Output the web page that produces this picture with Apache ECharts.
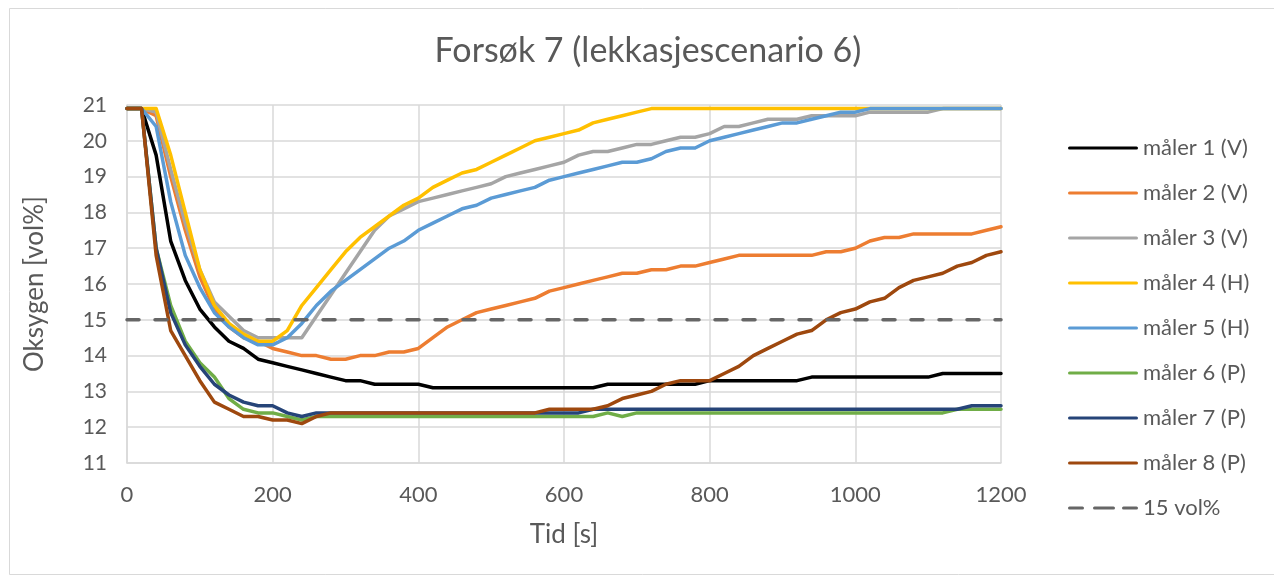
<!DOCTYPE html>
<html>
<head>
<meta charset="utf-8">
<title>Forsøk 7 (lekkasjescenario 6)</title>
<script src="https://cdn.jsdelivr.net/npm/echarts@6/dist/echarts.min.js"></script>
<style>
  html, body { margin: 0; padding: 0; background: #ffffff; }
  #chart { width: 1274px; height: 577px; }
</style>
</head>
<body>
<div id="chart"></div>
<script>
// Sampling times [s]
const tid = [
  0, 20, 40, 60, 80, 100, 120, 140, 160, 180,
  200, 220, 240, 260, 280, 300, 320, 340, 360, 380,
  400, 420, 440, 460, 480, 500, 520, 540, 560, 580,
  600, 620, 640, 660, 680, 700, 720, 740, 760, 780,
  800, 820, 840, 860, 880, 900, 920, 940, 960, 980,
  1000, 1020, 1040, 1060, 1080, 1100, 1120, 1140, 1160, 1180,
  1200
];

// Oxygen readings [vol%] per sensor
const maaler1 = [
  20.9, 20.9, 19.6, 17.2, 16.1, 15.3, 14.8, 14.4, 14.2, 13.9,
  13.8, 13.7, 13.6, 13.5, 13.4, 13.3, 13.3, 13.2, 13.2, 13.2,
  13.2, 13.1, 13.1, 13.1, 13.1, 13.1, 13.1, 13.1, 13.1, 13.1,
  13.1, 13.1, 13.1, 13.2, 13.2, 13.2, 13.2, 13.2, 13.2, 13.2,
  13.3, 13.3, 13.3, 13.3, 13.3, 13.3, 13.3, 13.4, 13.4, 13.4,
  13.4, 13.4, 13.4, 13.4, 13.4, 13.4, 13.5, 13.5, 13.5, 13.5,
  13.5
];
const maaler2 = [
  20.9, 20.9, 20.7, 19.0, 17.5, 16.2, 15.3, 14.8, 14.5, 14.4,
  14.2, 14.1, 14.0, 14.0, 13.9, 13.9, 14.0, 14.0, 14.1, 14.1,
  14.2, 14.5, 14.8, 15.0, 15.2, 15.3, 15.4, 15.5, 15.6, 15.8,
  15.9, 16.0, 16.1, 16.2, 16.3, 16.3, 16.4, 16.4, 16.5, 16.5,
  16.6, 16.7, 16.8, 16.8, 16.8, 16.8, 16.8, 16.8, 16.9, 16.9,
  17.0, 17.2, 17.3, 17.3, 17.4, 17.4, 17.4, 17.4, 17.4, 17.5,
  17.6
];
const maaler3 = [
  20.9, 20.9, 20.8, 19.2, 17.7, 16.4, 15.5, 15.1, 14.7, 14.5,
  14.5, 14.5, 14.5, 15.1, 15.7, 16.3, 16.9, 17.5, 17.9, 18.1,
  18.3, 18.4, 18.5, 18.6, 18.7, 18.8, 19.0, 19.1, 19.2, 19.3,
  19.4, 19.6, 19.7, 19.7, 19.8, 19.9, 19.9, 20.0, 20.1, 20.1,
  20.2, 20.4, 20.4, 20.5, 20.6, 20.6, 20.6, 20.7, 20.7, 20.7,
  20.7, 20.8, 20.8, 20.8, 20.8, 20.8, 20.9, 20.9, 20.9, 20.9,
  20.9
];
const maaler4 = [
  20.9, 20.9, 20.9, 19.6, 18.0, 16.4, 15.4, 14.9, 14.6, 14.4,
  14.4, 14.7, 15.4, 15.9, 16.4, 16.9, 17.3, 17.6, 17.9, 18.2,
  18.4, 18.7, 18.9, 19.1, 19.2, 19.4, 19.6, 19.8, 20.0, 20.1,
  20.2, 20.3, 20.5, 20.6, 20.7, 20.8, 20.9, 20.9, 20.9, 20.9,
  20.9, 20.9, 20.9, 20.9, 20.9, 20.9, 20.9, 20.9, 20.9, 20.9,
  20.9, 20.9, 20.9, 20.9, 20.9, 20.9, 20.9, 20.9, 20.9, 20.9,
  20.9
];
const maaler5 = [
  20.9, 20.9, 20.4, 18.3, 16.8, 15.9, 15.2, 14.8, 14.5, 14.3,
  14.3, 14.5, 14.9, 15.4, 15.8, 16.1, 16.4, 16.7, 17.0, 17.2,
  17.5, 17.7, 17.9, 18.1, 18.2, 18.4, 18.5, 18.6, 18.7, 18.9,
  19.0, 19.1, 19.2, 19.3, 19.4, 19.4, 19.5, 19.7, 19.8, 19.8,
  20.0, 20.1, 20.2, 20.3, 20.4, 20.5, 20.5, 20.6, 20.7, 20.8,
  20.8, 20.9, 20.9, 20.9, 20.9, 20.9, 20.9, 20.9, 20.9, 20.9,
  20.9
];
const maaler6 = [
  20.9, 20.9, 17.0, 15.4, 14.4, 13.8, 13.4, 12.8, 12.5, 12.4,
  12.4, 12.3, 12.2, 12.3, 12.3, 12.3, 12.3, 12.3, 12.3, 12.3,
  12.3, 12.3, 12.3, 12.3, 12.3, 12.3, 12.3, 12.3, 12.3, 12.3,
  12.3, 12.3, 12.3, 12.4, 12.3, 12.4, 12.4, 12.4, 12.4, 12.4,
  12.4, 12.4, 12.4, 12.4, 12.4, 12.4, 12.4, 12.4, 12.4, 12.4,
  12.4, 12.4, 12.4, 12.4, 12.4, 12.4, 12.4, 12.5, 12.5, 12.5,
  12.5
];
const maaler7 = [
  20.9, 20.9, 17.0, 15.2, 14.3, 13.7, 13.2, 12.9, 12.7, 12.6,
  12.6, 12.4, 12.3, 12.4, 12.4, 12.4, 12.4, 12.4, 12.4, 12.4,
  12.4, 12.4, 12.4, 12.4, 12.4, 12.4, 12.4, 12.4, 12.4, 12.4,
  12.4, 12.4, 12.5, 12.5, 12.5, 12.5, 12.5, 12.5, 12.5, 12.5,
  12.5, 12.5, 12.5, 12.5, 12.5, 12.5, 12.5, 12.5, 12.5, 12.5,
  12.5, 12.5, 12.5, 12.5, 12.5, 12.5, 12.5, 12.5, 12.6, 12.6,
  12.6
];
const maaler8 = [
  20.9, 20.9, 16.8, 14.7, 14.0, 13.3, 12.7, 12.5, 12.3, 12.3,
  12.2, 12.2, 12.1, 12.3, 12.4, 12.4, 12.4, 12.4, 12.4, 12.4,
  12.4, 12.4, 12.4, 12.4, 12.4, 12.4, 12.4, 12.4, 12.4, 12.5,
  12.5, 12.5, 12.5, 12.6, 12.8, 12.9, 13.0, 13.2, 13.3, 13.3,
  13.3, 13.5, 13.7, 14.0, 14.2, 14.4, 14.6, 14.7, 15.0, 15.2,
  15.3, 15.5, 15.6, 15.9, 16.1, 16.2, 16.3, 16.5, 16.6, 16.8,
  16.9
];

// Reference limit [vol%]
const grenseVerdi = 15;
const grenseTid = [0, 1200];

const serieNavn = [
  'måler 1 (V)', 'måler 2 (V)', 'måler 3 (V)', 'måler 4 (H)',
  'måler 5 (H)', 'måler 6 (P)', 'måler 7 (P)', 'måler 8 (P)'
];
const serieData = [maaler1, maaler2, maaler3, maaler4, maaler5, maaler6, maaler7, maaler8];
const serieFarger = ['#000000', '#ED7D31', '#A5A5A5', '#FFC000', '#5B9BD5', '#70AD47', '#264478', '#9E480E'];
const grenseNavn = '15 vol%';
const grenseFarge = '#666666';

const FONT = 'Lato, "Open Sans", sans-serif';
const TEXT = '#595959';
const GRID = '#d9d9d9';

// Legend keys: a solid stroke for the sensors, three dashes for the limit
const ikonHel = 'path://M1.5,0H68.5A1.5,1.5,0,0,1,68.5,3H1.5A1.5,1.5,0,0,1,1.5,0Z';
const ikonStiplet = 'path://M1.5,0H14.5A1.5,1.5,0,0,1,14.5,3H1.5A1.5,1.5,0,0,1,1.5,0Z' +
  'M26.5,0H45.5A1.5,1.5,0,0,1,45.5,3H26.5A1.5,1.5,0,0,1,26.5,0Z' +
  'M55.5,0H68.5A1.5,1.5,0,0,1,68.5,3H55.5A1.5,1.5,0,0,1,55.5,0Z';

const series = serieData.map((vals, i) => ({
  name: serieNavn[i],
  type: 'line',
  symbol: 'none',
  smooth: false,
  silent: true,
  animation: false,
  data: tid.map((t, k) => [t, vals[k]]),
  lineStyle: { color: serieFarger[i], width: 3.5, cap: 'round', join: 'round' },
  itemStyle: { color: serieFarger[i] }
}));

series.push({
  name: grenseNavn,
  type: 'line',
  symbol: 'none',
  silent: true,
  animation: false,
  data: grenseTid.map(t => [t, grenseVerdi]),
  lineStyle: { color: grenseFarge, width: 3.5, type: [12, 16], cap: 'round' },
  itemStyle: { color: grenseFarge }
});

const legendData = serieNavn.map(n => ({ name: n, icon: ikonHel }))
  .concat([{ name: grenseNavn, icon: ikonStiplet }]);

const chart = echarts.init(document.getElementById('chart'), null, { renderer: 'canvas' });
chart.setOption({
  backgroundColor: '#ffffff',
  animation: false,
  textStyle: { fontFamily: FONT, color: TEXT },
  title: {
    text: 'Forsøk 7 (lekkasjescenario 6)',
    left: 643,
    textAlign: 'center',
    top: 29,
    textStyle: { fontFamily: FONT, fontSize: 34, fontWeight: 'normal', color: TEXT }
  },
  grid: { left: 127, right: 273, top: 105, bottom: 114, containLabel: false },
  legend: {
    orient: 'vertical',
    left: 1068,
    top: 137,
    padding: 0,
    itemWidth: 70,
    itemHeight: 22,
    itemGap: 23,
    data: legendData,
    textStyle: { fontFamily: FONT, fontSize: 22, lineHeight: 22, color: TEXT },
    selectedMode: false
  },
  xAxis: {
    type: 'value',
    min: 0,
    max: 1200,
    interval: 200,
    name: 'Tid [s]',
    nameLocation: 'middle',
    nameGap: 59,
    nameTextStyle: { fontFamily: FONT, fontSize: 26, color: TEXT },
    axisLine: { show: true, lineStyle: { color: GRID, width: 1.5 } },
    axisTick: { show: false },
    axisLabel: { margin: 21, fontFamily: FONT, fontSize: 22, color: TEXT, formatter: v => String(v) },
    splitLine: { show: true, lineStyle: { color: GRID, width: 1.5 } }
  },
  yAxis: {
    type: 'value',
    min: 11,
    max: 21,
    interval: 1,
    name: 'Oksygen [vol%]',
    nameLocation: 'middle',
    nameGap: 79,
    nameTextStyle: { fontFamily: FONT, fontSize: 26, color: TEXT },
    axisLine: { show: true, lineStyle: { color: GRID, width: 1.5 } },
    axisTick: { show: false },
    axisLabel: { margin: 20, fontFamily: FONT, fontSize: 21, color: TEXT },
    splitLine: { show: true, lineStyle: { color: GRID, width: 1.5 } }
  },
  graphic: [{
    type: 'rect',
    left: 7,
    top: 6,
    silent: true,
    shape: { width: 1266, height: 566 },
    style: { fill: 'none', stroke: GRID, lineWidth: 1 },
    z: -1
  }],
  series: series
});
</script>
</body>
</html>
